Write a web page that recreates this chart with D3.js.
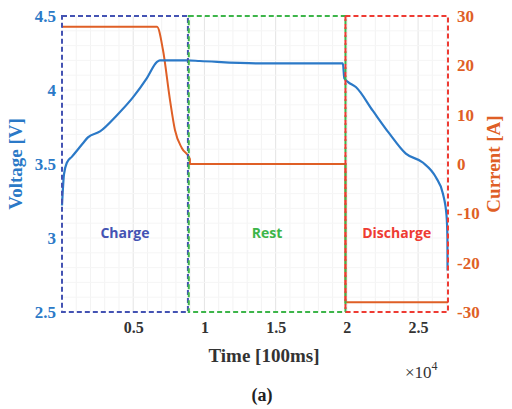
<!DOCTYPE html>
<html>
<head>
<meta charset="utf-8">
<title>Charge / Rest / Discharge</title>
<script src="https://d3js.org/d3.v7.min.js"></script>
<style>
  body { margin: 0; background: #fff; }
  text { font-family: "Liberation Serif", "Times New Roman", serif; font-weight: bold; }
</style>
</head>
<body>
<script>
'use strict';
// voltage trace [100ms, V]
const timeV = [0, 140, 350, 700, 1470, 1820, 2670, 3860, 4980, 5960, 6670, 6880, 8770, 9680, 13610,
  19720, 19820, 20070, 20630, 21820, 22950, 24140, 25330, 26250, 26740, 27000, 27060, 27070];
const voltage = [3.22, 3.43, 3.51, 3.55, 3.64, 3.68, 3.72, 3.83, 3.95, 4.08, 4.19, 4.20, 4.20, 4.196, 4.18,
  4.18, 4.08, 4.055, 4.02, 3.86, 3.71, 3.57, 3.51, 3.41, 3.30, 3.15, 3.0, 2.78];
// current trace [100ms, A]
const timeI = [0, 6670, 7090, 7580, 7930, 8420, 8980, 8980, 19900, 19900, 27100];
const current = [27.8, 27.8, 23.1, 13.0, 6.9, 3.2, 1.0, 0, 0, -28, -28];

const xTicks = [5000, 10000, 15000, 20000, 25000];
const xTickLabels = ['0.5', '1', '1.5', '2', '2.5'];
const vTicks = [2.5, 3, 3.5, 4, 4.5];
const iTicks = [-30, -20, -10, 0, 10, 20, 30];

const phaseNames = ['Charge', 'Rest', 'Discharge'];
const phaseStart = [0, 8900, 19900];
const phaseEnd = [8840, 19900, 27100];
const phaseColors = ['#4453b3', '#3db54a', '#ee3b33'];

const width = 512, height = 409;
const margin = {top: 16, right: 64, bottom: 97, left: 62};

const svg = d3.select('body').append('svg')
  .attr('width', width)
  .attr('height', height);

const x = d3.scaleLinear().domain([0, 27100]).range([margin.left, width - margin.right]);
const yV = d3.scaleLinear().domain([2.5, 4.5]).range([height - margin.bottom, margin.top]);
const yI = d3.scaleLinear().domain([-30, 30]).range([height - margin.bottom, margin.top]);

const blue = '#2b79c7';
const orange = '#df5f26';

// faint grid
const grid = svg.append('g');
grid.selectAll('line.gx').data(d3.range(1000, 27100, 1000)).enter().append('line')
  .attr('x1', d => x(d)).attr('x2', d => x(d))
  .attr('y1', yV(2.5)).attr('y2', yV(4.5))
  .attr('stroke', d => d % 5000 === 0 ? '#e4e4e4' : '#f3f3f3').attr('stroke-width', 1);
grid.selectAll('line.gy').data(d3.range(2.6, 4.5, 0.1)).enter().append('line')
  .attr('x1', x(0)).attr('x2', x(27100))
  .attr('y1', d => yV(d)).attr('y2', d => yV(d))
  .attr('stroke', '#f5f5f5').attr('stroke-width', 1);

// curves
const lineV = d3.line().x((d, i) => x(timeV[i])).y(d => yV(d)).curve(d3.curveMonotoneX);
const lineI = d3.line().x((d, i) => x(timeI[i])).y(d => yI(d)).curve(d3.curveMonotoneX);

svg.append('path').datum(current)
  .attr('d', lineI)
  .attr('fill', 'none').attr('stroke', orange).attr('stroke-width', 2);

svg.append('path').datum(voltage)
  .attr('d', lineV)
  .attr('fill', 'none').attr('stroke', blue).attr('stroke-width', 2.2);

// phase boxes
phaseNames.forEach((name, i) => {
  svg.append('rect')
    .attr('x', x(phaseStart[i])).attr('y', yV(4.5))
    .attr('width', x(phaseEnd[i]) - x(phaseStart[i]))
    .attr('height', yV(2.5) - yV(4.5))
    .attr('fill', 'none')
    .attr('stroke', phaseColors[i])
    .attr('stroke-width', 2)
    .attr('stroke-dasharray', '5,3');
  svg.append('text')
    .attr('x', (x(phaseStart[i]) + x(phaseEnd[i])) / 2)
    .attr('y', 238)
    .attr('text-anchor', 'middle')
    .style('font-family', '"Open Sans", "Noto Sans", sans-serif')
    .style('font-size', '14px')
    .attr('fill', phaseColors[i])
    .text(name);
});

// axes
const ax = svg.append('g').attr('transform', `translate(0,${yV(2.5)})`)
  .call(d3.axisBottom(x).tickValues(xTicks).tickFormat((d, i) => xTickLabels[i]).tickSize(0).tickPadding(10));
const axL = svg.append('g').attr('transform', `translate(${x(0)},0)`)
  .call(d3.axisLeft(yV).tickValues(vTicks).tickFormat(d3.format('')).tickSize(0).tickPadding(6));
const axR = svg.append('g').attr('transform', `translate(${x(27100)},0)`)
  .call(d3.axisRight(yI).tickValues(iTicks).tickSize(0).tickPadding(9));

[ax, axL, axR].forEach(a => {
  a.select('.domain').remove();
  a.selectAll('text').style('font-family', '"Liberation Serif", serif')
    .style('font-weight', 'bold').style('font-size', '17px');
});
ax.selectAll('text').attr('fill', '#333').style('font-size', '16px');
axL.selectAll('text').attr('fill', blue);
axR.selectAll('text').attr('fill', orange).text(d => d < 0 ? '-' + Math.abs(d) : d);

// labels
svg.append('text')
  .attr('transform', `translate(22,${(yV(2.5) + yV(4.5)) / 2}) rotate(-90)`)
  .attr('text-anchor', 'middle')
  .style('font-size', '19px').attr('fill', blue)
  .text('Voltage [V]');
svg.append('text')
  .attr('transform', `translate(500,${(yV(2.5) + yV(4.5)) / 2}) rotate(-90)`)
  .attr('text-anchor', 'middle')
  .style('font-size', '19px').attr('fill', orange)
  .text('Current [A]');
svg.append('text')
  .attr('x', 264).attr('y', 362)
  .attr('text-anchor', 'middle')
  .style('font-size', '19px').attr('fill', '#333')
  .text('Time [100ms]');

const exp = svg.append('text')
  .attr('x', 405).attr('y', 378)
  .style('font-size', '17px').style('font-weight', 'normal').attr('fill', '#333');
exp.append('tspan').text('×10');
exp.append('tspan').attr('dy', -8).style('font-size', '12px').text('4');

svg.append('text')
  .attr('x', 262).attr('y', 401)
  .attr('text-anchor', 'middle')
  .style('font-size', '18px').attr('fill', '#222')
  .text('(a)');
</script>
</body>
</html>
